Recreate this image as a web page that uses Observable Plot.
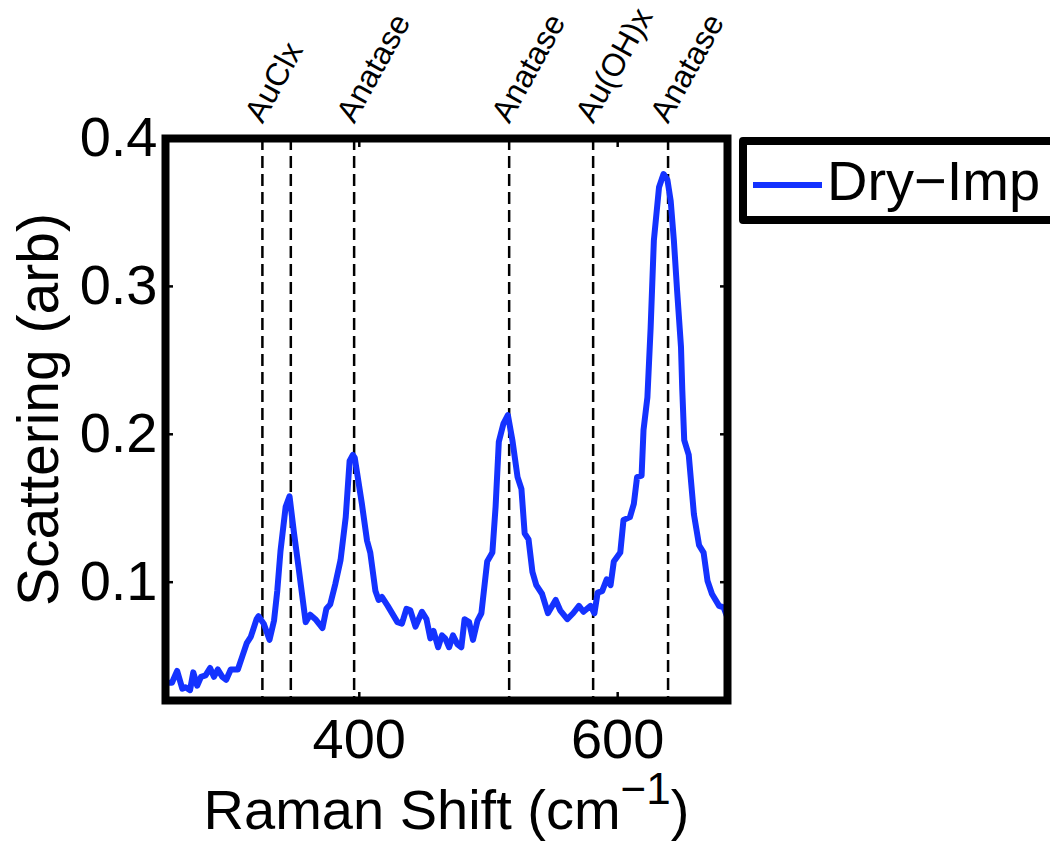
<!DOCTYPE html>
<html>
<head>
<meta charset="utf-8">
<script src="https://cdn.jsdelivr.net/npm/d3@7"></script>
<script src="https://cdn.jsdelivr.net/npm/@observablehq/plot@0.6"></script>
<style>
  html, body { margin: 0; padding: 0; background: #fff; overflow: hidden; }
  #wrap { position: relative; width: 1050px; height: 841px; overflow: hidden; }
  #legend {
    position: absolute; left: 739px; top: 137px;
    width: 340px; height: 71px;
    border: 8px solid #000; border-radius: 4px; background: #fff;
    font-family: "Liberation Sans", Arial, Helvetica, sans-serif;
    font-size: 56px; display: flex; align-items: center;
  }
  #legend svg { flex: none; }
</style>
</head>
<body>
<div id="wrap"></div>
<script>
// Raman spectrum of the dry-impregnated sample
const shift = [250, 255, 259, 263, 265.5, 269, 271.5, 274.5, 277.5, 281, 284.5, 287.5, 290.5, 294, 297, 300.5,
  306, 309.5, 313, 316, 320.5, 322, 326, 330.5, 334, 336.5, 339, 343, 346, 349.5, 353, 358.5, 362, 366, 371.5,
  374.5, 377.5, 381.5, 385.5, 389.5, 392.5, 395, 396.5, 402, 406, 408.5, 412.5, 415, 417.5, 422, 429.5, 433,
  436.5, 439.5, 443.5, 448.5, 452, 455, 457.5, 461, 464, 466.5, 469.5, 472.5, 476, 479, 481.5, 485, 488, 491.5,
  494.5, 499, 503, 505.5, 508, 511.5, 515, 518.5, 522.5, 525.5, 528, 531, 534, 537, 541.5, 546, 552, 555.5, 561,
  565.5, 570, 573.5, 579, 582, 584.5, 588, 591.5, 594.5, 597, 602, 604.5, 609.5, 612.5, 615, 618.5, 620, 623,
  625.5, 628, 632, 635.5, 638.5, 641, 643.5, 646, 649, 650, 651.5, 655, 659, 663, 666.5, 669.5, 673, 678.5, 682, 685];
const scattering = [0.032, 0.032, 0.040, 0.028, 0.029, 0.027, 0.039, 0.030, 0.036, 0.037, 0.042, 0.036, 0.041,
  0.036, 0.034, 0.041, 0.041, 0.050, 0.059, 0.063, 0.075, 0.077, 0.072, 0.061, 0.074, 0.094, 0.121, 0.151, 0.158,
  0.133, 0.110, 0.073, 0.078, 0.075, 0.069, 0.082, 0.085, 0.099, 0.115, 0.144, 0.182, 0.186, 0.184, 0.153, 0.128,
  0.120, 0.094, 0.088, 0.090, 0.084, 0.073, 0.072, 0.082, 0.081, 0.070, 0.080, 0.075, 0.062, 0.067, 0.056, 0.064,
  0.062, 0.056, 0.064, 0.058, 0.056, 0.075, 0.073, 0.061, 0.074, 0.079, 0.114, 0.120, 0.151, 0.195, 0.207, 0.213,
  0.196, 0.171, 0.163, 0.133, 0.129, 0.107, 0.098, 0.092, 0.079, 0.088, 0.081, 0.075, 0.079, 0.084, 0.080, 0.084,
  0.079, 0.093, 0.094, 0.102, 0.098, 0.114, 0.120, 0.142, 0.144, 0.153, 0.171, 0.172, 0.203, 0.225, 0.272, 0.331,
  0.367, 0.376, 0.372, 0.358, 0.331, 0.297, 0.259, 0.230, 0.196, 0.186, 0.146, 0.125, 0.120, 0.101, 0.092, 0.084,
  0.083, 0.076];

// Reference band positions and their assignments
const bandPositions = [325, 347, 396, 516, 581, 639];
const bandLabels = ["AuClx", "", "Anatase", "Anatase", "Au(OH)x", "Anatase"];

const xTicks = [400, 600];
const yTicks = [0.1, 0.2, 0.3, 0.4];
const seriesName = "Dry\u2212Imp";
const xLabel = "Raman Shift (cm";
const xLabelSup = "\u22121";
const yLabel = "Scattering (arb)";

const lineColor = "#1432ff";
const font = "Liberation Sans, Arial, Helvetica, sans-serif";

const spectrum = shift.map((s, i) => ({shift: s, value: scattering[i]}));
const bands = bandPositions.map((p, i) => ({pos: p, label: bandLabels[i]}));

const chart = Plot.plot({
  width: 1050,
  height: 841,
  marginLeft: 165,
  marginRight: 323,
  marginTop: 138,
  marginBottom: 141,
  style: {fontFamily: font, background: "transparent", color: "#000", overflow: "visible"},
  x: {domain: [250, 685]},
  y: {domain: [0.02, 0.4]},
  marks: [
    Plot.ruleX(bands, {x: "pos", stroke: "#000", strokeWidth: 2.5, strokeDasharray: "12,6"}),
    Plot.line(spectrum, {x: "shift", y: "value", stroke: lineColor, strokeWidth: 6,
      strokeLinejoin: "round", strokeLinecap: "round"}),
    Plot.frame({stroke: "#000", strokeWidth: 8}),
    // inward ticks on all four sides
    Plot.axisX(xTicks, {anchor: "bottom", tickSize: -8, strokeWidth: 2.5, text: null, label: null}),
    Plot.axisX(xTicks, {anchor: "top", tickSize: -8, strokeWidth: 2.5, text: null, label: null}),
    Plot.axisY(yTicks, {anchor: "left", tickSize: -8, strokeWidth: 2.5, text: null, label: null}),
    Plot.axisY(yTicks, {anchor: "right", tickSize: -8, strokeWidth: 2.5, text: null, label: null}),
    // tick labels
    Plot.axisX(xTicks, {anchor: "bottom", tickSize: 0, tickPadding: 18, fontSize: 56, label: null}),
    Plot.axisY(yTicks, {anchor: "left", tickSize: 0, tickPadding: 8, fontSize: 56, label: null,
      tickFormat: d => d.toFixed(1)}),
    // band assignments above the frame
    Plot.text(bands.filter(d => d.label), {x: "pos", text: "label", frameAnchor: "top", dy: -14,
      rotate: -61, textAnchor: "start", lineAnchor: "bottom", fontSize: 32, fill: "#000"}),
    // axis titles
    Plot.text([yLabel], {frameAnchor: "left", rotate: -90, dx: -126, dy: -10, textAnchor: "middle",
      lineAnchor: "middle", fontSize: 57, fill: "#000"}),
    Plot.text([xLabel], {frameAnchor: "bottom", dy: 128, textAnchor: "middle", lineAnchor: "bottom",
      fontSize: 56, fill: "#000", className: "xlabel"})
  ]
});

// superscript for the x-axis unit
d3.select(chart).selectAll(".xlabel text").each(function () {
  const t = d3.select(this);
  t.text(null);
  t.append("tspan").text(xLabel);
  t.append("tspan").attr("font-size", 44).attr("dy", -25).text(xLabelSup);
  t.append("tspan").attr("font-size", 56).attr("dy", 25).text(")");
});

const wrap = document.getElementById("wrap");
wrap.appendChild(chart);

// legend box to the right of the axes
const legend = document.createElement("div");
legend.id = "legend";
legend.innerHTML = `<svg width="80" height="71"><line x1="6" x2="75" y1="40" y2="40" stroke="${lineColor}" stroke-width="6"/></svg><span></span>`;
legend.querySelector("span").textContent = seriesName;
wrap.appendChild(legend);
</script>
</body>
</html>
